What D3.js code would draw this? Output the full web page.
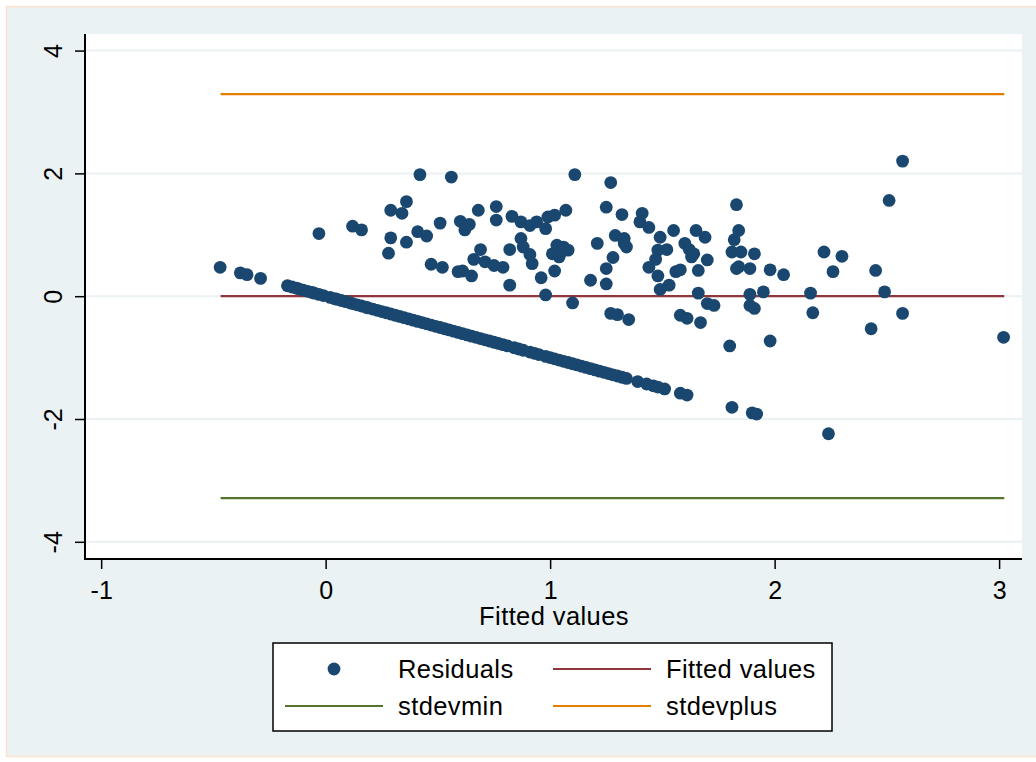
<!DOCTYPE html>
<html>
<head>
<meta charset="utf-8">
<script src="https://cdn.jsdelivr.net/npm/d3@7"></script>
<style>
  body { margin: 0; background: #ffffff; }
  text { font-family: "Liberation Sans", Arial, sans-serif; fill: #000; }
</style>
</head>
<body>
<div id="chart"></div>
<script>
// residuals vs fitted values
var residuals = [
  // observations on the y = 0 diagonal
  [-0.47,0.47],[-0.38,0.38],[-0.35,0.35],[-0.29,0.29],[-0.17,0.17],[-0.15,0.15],[-0.13,0.13],[-0.12,0.12],
  [-0.10,0.10],[-0.08,0.08],[-0.06,0.06],[-0.05,0.05],[-0.03,0.03],[-0.01,0.01],[0.02,-0.02],[0.04,-0.04],
  [0.05,-0.05],[0.07,-0.07],[0.09,-0.09],[0.11,-0.11],[0.12,-0.12],[0.14,-0.14],[0.16,-0.16],[0.18,-0.18],
  [0.19,-0.19],[0.21,-0.21],[0.23,-0.23],[0.25,-0.25],[0.27,-0.27],[0.29,-0.29],[0.31,-0.31],[0.33,-0.33],
  [0.35,-0.35],[0.37,-0.37],[0.39,-0.39],[0.41,-0.41],[0.43,-0.43],[0.45,-0.45],[0.47,-0.47],[0.49,-0.49],
  [0.51,-0.51],[0.53,-0.53],[0.55,-0.55],[0.57,-0.57],[0.59,-0.59],[0.61,-0.61],[0.63,-0.63],[0.65,-0.65],
  [0.67,-0.67],[0.69,-0.69],[0.71,-0.71],[0.73,-0.73],[0.75,-0.75],[0.77,-0.77],[0.79,-0.79],[0.81,-0.81],
  [0.84,-0.84],[0.86,-0.86],[0.88,-0.88],[0.91,-0.91],[0.93,-0.93],[0.95,-0.95],[0.98,-0.98],[1.00,-1.00],
  [1.02,-1.02],[1.04,-1.04],[1.06,-1.06],[1.08,-1.08],[1.10,-1.10],[1.12,-1.12],[1.14,-1.14],[1.16,-1.16],
  [1.18,-1.18],[1.20,-1.20],[1.22,-1.22],[1.24,-1.24],[1.26,-1.26],[1.28,-1.28],[1.30,-1.30],[1.32,-1.32],
  [1.34,-1.34],[1.39,-1.39],[1.43,-1.43],[1.46,-1.46],[1.48,-1.48],[1.51,-1.51],[1.58,-1.58],[1.61,-1.61],
  [1.81,-1.81],[1.90,-1.90],[1.92,-1.92],[2.24,-2.24],
  // the scattered cloud above
  [-0.03,1.02],[0.12,1.14],[0.16,1.08],[0.42,1.98],[0.56,1.94],[0.36,1.54],[0.29,1.40],[0.34,1.35],
  [0.29,0.95],[0.28,0.70],[0.36,0.88],[0.41,1.05],[0.45,0.98],[0.51,1.19],[0.47,0.52],[0.52,0.47],
  [0.59,0.40],[0.61,0.41],[0.60,1.22],[0.62,1.08],[0.64,1.17],[0.65,0.33],[0.66,0.60],
  [1.11,1.98],[1.27,1.85],[0.68,1.40],[0.76,1.46],[0.76,1.24],[0.83,1.30],[0.87,1.21],[0.91,1.15],
  [0.94,1.21],[0.98,1.10],[0.99,1.29],[1.02,1.32],[1.07,1.40],[0.87,0.94],[0.88,0.80],[0.82,0.76],
  [0.91,0.68],[0.92,0.53],[0.69,0.76],[0.71,0.56],[0.75,0.50],[0.79,0.47],[0.82,0.18],[0.96,0.30],
  [0.98,0.02],[1.02,0.41],[1.03,0.83],[1.06,0.80],[1.01,0.69],[1.04,0.64],[1.08,0.75],[1.05,0.72],
  [1.10,-0.11],[1.21,0.86],[1.18,0.26],[1.25,1.45],[1.32,1.33],[1.29,0.99],[1.33,0.86],[1.28,0.63],
  [1.25,0.45],[1.25,0.20],[1.27,-0.28],[1.30,-0.30],[1.35,-0.38],
  [1.41,1.35],[1.40,1.21],[1.44,1.12],[1.33,0.94],[1.34,0.80],[1.49,0.96],[1.55,1.07],[1.52,0.76],
  [1.48,0.75],[1.47,0.60],[1.44,0.47],[1.48,0.33],[1.49,0.11],[1.53,0.18],[1.56,0.40],[1.60,0.86],
  [1.62,0.76],[1.63,0.64],[1.64,0.69],[1.58,0.43],[1.66,0.42],[1.70,0.59],[1.65,1.07],[1.69,0.96],
  [1.66,0.05],[1.70,-0.12],[1.73,-0.15],[1.58,-0.31],[1.61,-0.36],[1.67,-0.43],[1.83,1.49],[1.84,1.07],
  [1.82,0.92],[1.81,0.72],[1.85,0.72],[1.84,0.48],[1.83,0.45],[1.89,0.45],[1.91,0.69],[1.98,0.43],
  [2.04,0.35],[1.89,0.03],[1.95,0.07],[1.89,-0.15],[1.91,-0.20],[1.80,-0.81],[1.98,-0.73],
  [2.57,2.20],[2.51,1.56],[2.22,0.72],[2.30,0.65],[2.26,0.40],[2.45,0.42],[2.16,0.05],[2.49,0.07],
  [2.17,-0.27],[2.57,-0.28],[2.43,-0.53],[3.02,-0.67]
];

// the three horizontal lines (min and max fitted value)
var fittedLine = [[-0.468, 0], [3.023, 0]];
var stdevMin   = [[-0.468, -3.29], [3.023, -3.29]];
var stdevPlus  = [[-0.468, 3.29], [3.023, 3.29]];

var xTicks = [-1, 0, 1, 2, 3];
var yTicks = [-4, -2, 0, 2, 4];

var legendItems = [
  {label: "Residuals",     type: "dot",  color: "#1a476f"},
  {label: "Fitted values", type: "line", color: "#90353b"},
  {label: "stdevmin",      type: "line", color: "#55752f"},
  {label: "stdevplus",     type: "line", color: "#e37e00"}
];

var W = 1036, H = 762;
var plot = {left: 85, right: 1022, top: 34, bottom: 559};

var svg = d3.select("#chart")
  .append("svg")
    .attr("width", W)
    .attr("height", H);

// outer graph region
svg.append("rect")
  .attr("x", 6.5).attr("y", 6.5)
  .attr("width", W + 10).attr("height", 750)
  .style("fill", "#eaf2f3")
  .style("stroke", "#fde3cf")
  .style("stroke-width", 1.5);

// plot region
svg.append("rect")
  .attr("x", plot.left).attr("y", plot.top)
  .attr("width", plot.right - plot.left).attr("height", plot.bottom - plot.top)
  .style("fill", "#ffffff");

var x = d3.scaleLinear().domain([-1.072, 3.102]).range([plot.left, plot.right]);
var y = d3.scaleLinear().domain([-4.28, 4.27]).range([plot.bottom, plot.top]);

// plain hyphen for negatives, like the original
var tickFmt = function(d) { return String(d); };

// grid lines
svg.selectAll(".grid")
  .data(yTicks).enter()
  .append("line")
    .attr("class", "grid")
    .attr("x1", plot.left).attr("x2", plot.right)
    .attr("y1", function(d) { return y(d); })
    .attr("y2", function(d) { return y(d); })
    .style("stroke", "#eaf2f3")
    .style("stroke-width", 2);

// lines
var line = d3.line().x(function(d) { return x(d[0]); }).y(function(d) { return y(d[1]); });
[[stdevPlus, "#e37e00"], [stdevMin, "#55752f"], [fittedLine, "#90353b"]].forEach(function(l) {
  svg.append("path")
    .attr("d", line(l[0]))
    .style("fill", "none")
    .style("stroke", l[1])
    .style("stroke-width", 2.2);
});

// points
svg.selectAll(".dot")
  .data(residuals).enter()
  .append("circle")
    .attr("class", "dot")
    .attr("cx", function(d) { return x(d[0]); })
    .attr("cy", function(d) { return y(d[1]); })
    .attr("r", 6.4)
    .style("fill", "#1a476f");

// axes
var xAxis = svg.append("g")
  .attr("transform", "translate(0," + plot.bottom + ")")
  .call(d3.axisBottom(x).tickValues(xTicks).tickSize(10).tickSizeOuter(0).tickFormat(tickFmt));
var yAxis = svg.append("g")
  .attr("transform", "translate(" + plot.left + ",0)")
  .call(d3.axisLeft(y).tickValues(yTicks).tickSize(10).tickSizeOuter(0).tickFormat(tickFmt));

[xAxis, yAxis].forEach(function(a) {
  a.select(".domain").remove();
  a.selectAll("line").style("stroke", "#000").style("stroke-width", 1.5);
  a.selectAll("text").style("font-size", "25px").style("font-family", "Liberation Sans, Arial, sans-serif");
});
xAxis.selectAll("text").attr("y", 0).attr("dy", null)
  .attr("transform", "translate(0,31)")
  .attr("dominant-baseline", "central");
yAxis.selectAll("text")
  .attr("x", null).attr("dy", null)
  .attr("text-anchor", "middle")
  .attr("dominant-baseline", "central")
  .attr("transform", "translate(-32,0) rotate(-90)");

// axis lines
svg.append("line")
  .attr("x1", plot.left).attr("x2", plot.left)
  .attr("y1", plot.top).attr("y2", plot.bottom)
  .style("stroke", "#000").style("stroke-width", 2);
svg.append("line")
  .attr("x1", plot.left - 1).attr("x2", plot.right)
  .attr("y1", plot.bottom).attr("y2", plot.bottom)
  .style("stroke", "#000").style("stroke-width", 2);

// axis title
svg.append("text")
  .attr("x", (plot.left + plot.right) / 2 + 0.5)
  .attr("y", 616)
  .attr("text-anchor", "middle")
  .attr("dominant-baseline", "central")
  .style("font-size", "25.5px")
  .style("letter-spacing", "0.4px")
  .text("Fitted values");

// legend
var legend = svg.append("g").attr("transform", "translate(273,643)");
legend.append("rect")
  .attr("width", 559).attr("height", 88)
  .style("fill", "#ffffff")
  .style("stroke", "#000")
  .style("stroke-width", 1.5);

var items = legend.selectAll(".item")
  .data(legendItems).enter()
  .append("g")
    .attr("class", "item")
    .attr("transform", function(d, i) {
      return "translate(" + (12 + (i % 2) * 268) + "," + (26 + Math.floor(i / 2) * 37) + ")";
    });
items.filter(function(d) { return d.type === "line"; })
  .append("line")
    .attr("x1", 0).attr("x2", 98)
    .style("stroke", function(d) { return d.color; })
    .style("stroke-width", 2.2);
items.filter(function(d) { return d.type === "dot"; })
  .append("circle")
    .attr("cx", 49).attr("r", 6.4)
    .style("fill", function(d) { return d.color; });
items.append("text")
  .attr("x", 113)
  .attr("dominant-baseline", "central")
  .style("font-size", "25.5px")
  .style("letter-spacing", "0.4px")
  .text(function(d) { return d.label; });
</script>
</body>
</html>
